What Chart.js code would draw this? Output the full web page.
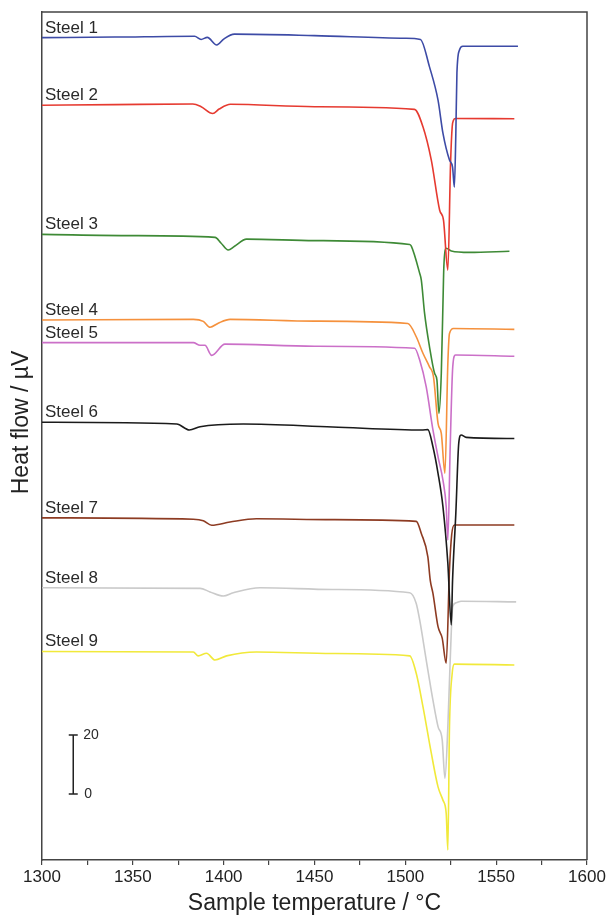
<!DOCTYPE html>
<html>
<head>
<meta charset="utf-8">
<script src="https://cdn.jsdelivr.net/npm/chart.js@4.4.1/dist/chart.umd.min.js"></script>
<style>
  html, body { margin: 0; padding: 0; background: #fff; }
  #wrap { width: 611px; height: 917px; }
</style>
</head>
<body>
<div id="wrap"><canvas id="dscChart" width="611" height="917"></canvas></div>
<script>
// sample temperature (°C) and heat flow (µV), one pair of arrays per steel
const steel1T = [1300, 1340, 1384, 1387.6, 1391, 1396.2, 1400, 1405.9, 1450, 1500, 1508.3, 1513.3, 1518, 1520.7, 1524.3, 1526, 1527, 1527.8, 1528.4, 1529.8, 1531.6, 1562];
const steel1V = [278.8, 279.0, 279.3, 278.2, 278.9, 276.3, 278.3, 280.0, 279.5, 278.6, 278.2, 268.9, 257.6, 246.4, 237.3, 234.9, 228.1, 246.4, 266.8, 274.6, 275.9, 275.9];

const steel2T = [1300, 1340, 1383, 1387.6, 1394, 1397.5, 1403.7, 1450, 1505, 1509.7, 1514.3, 1518.9, 1521, 1523.4, 1524.9, 1525.8, 1526.5, 1527.6, 1560];
const steel2V = [255.9, 256.1, 256.3, 255.4, 253.1, 254.6, 256.2, 255.4, 254.5, 248.6, 237.3, 220.3, 216.9, 200.0, 236.3, 248.6, 250.8, 251.4, 251.3];

const steel3T = [1300, 1350, 1395.3, 1398.5, 1402.5, 1406, 1412.6, 1450, 1502.4, 1503.3, 1507.9, 1508.8, 1510.6, 1513.3, 1516.1, 1517.4, 1518.5, 1519.8, 1521, 1521.2, 1522.5, 1525.3, 1535.3, 1557.3];
const steel3V = [212.1, 211.7, 211.1, 209.2, 206.8, 208.1, 210.5, 210.0, 208.7, 208.1, 198.9, 196.6, 185.3, 174.0, 165.0, 162.7, 151.4, 165.0, 196.6, 201.1, 207.4, 206.5, 206.0, 206.4];

const steel4T = [1300, 1383.3, 1388.8, 1392.5, 1397, 1403.5, 1450, 1501.4, 1506, 1509.7, 1513.3, 1515.5, 1518, 1519.8, 1521.8, 1523.4, 1524.3, 1526.5, 1560];
const steel4V = [183.1, 183.3, 182.6, 180.6, 182.0, 183.3, 182.7, 181.9, 177.4, 171.8, 167.2, 163.8, 148.0, 144.6, 131.1, 168.4, 178.5, 180.2, 179.9];

const steel5T = [1300, 1383.3, 1387, 1389.7, 1393.4, 1400.7, 1450, 1505.1, 1507.9, 1511.5, 1515.2, 1518, 1520.7, 1522.5, 1523.4, 1524.7, 1526.1, 1527.6, 1560];
const steel5V = [175.4, 175.4, 174.5, 174.5, 171.1, 174.9, 174.2, 173.5, 169.5, 160.4, 145.8, 136.7, 128.8, 119.8, 108.5, 140.1, 167.2, 171.2, 170.8];

const steel6T = [1300, 1374.2, 1381.1, 1387, 1410.8, 1460, 1509.7, 1512.4, 1515.2, 1518, 1520.7, 1523.4, 1525.3, 1526, 1527.8, 1529.4, 1530.7, 1533.5, 1560];
const steel6V = [148.4, 147.8, 145.8, 146.9, 147.8, 146.8, 145.8, 145.9, 140.1, 131.1, 119.8, 100.6, 79.7, 94.9, 117.6, 141.3, 144.1, 143.3, 142.9];

const steel7T = [1300, 1383.3, 1388.8, 1393.4, 1403.5, 1418, 1460, 1506, 1508.8, 1512.4, 1513.7, 1515.2, 1518, 1520.3, 1522.5, 1524.3, 1525.5, 1527, 1560];
const steel7V = [116.0, 115.5, 115.0, 113.5, 114.6, 115.7, 115.4, 114.8, 110.7, 102.8, 94.9, 90.4, 79.1, 75.2, 66.7, 98.3, 110.2, 113.6, 113.6];

const steel8T = [1300, 1387, 1392.5, 1399.8, 1405.3, 1420, 1460, 1502.4, 1506, 1507.9, 1511.5, 1515.2, 1518, 1520.3, 1521.8, 1523.4, 1524.7, 1526.1, 1528, 1530.7, 1561];
const steel8V = [92.3, 92.1, 90.9, 89.5, 90.6, 92.3, 91.7, 90.6, 87.0, 81.4, 67.8, 54.2, 45.2, 40.7, 27.7, 45.2, 67.8, 85.9, 87.2, 87.7, 87.5];

const steel9T = [1300, 1383.3, 1386, 1390.6, 1395.2, 1401.6, 1418, 1460, 1502.4, 1506, 1509.7, 1514.3, 1518, 1520.7, 1522.5, 1523.4, 1524.3, 1525.8, 1527, 1560];
const steel9V = [70.7, 70.5, 69.2, 70.1, 67.8, 69.2, 70.5, 70.0, 69.2, 63.3, 52.0, 36.2, 24.8, 20.3, 15.8, 3.4, 45.2, 63.3, 66.4, 66.1];

const steelNames = ['Steel 1', 'Steel 2', 'Steel 3', 'Steel 4', 'Steel 5', 'Steel 6', 'Steel 7', 'Steel 8', 'Steel 9'];
const steelColors = ['#3d4ba6', '#e63a30', '#3e8a36', '#f5913d', '#cb70c8', '#1b1b1b', '#8d3b22', '#cacaca', '#f1e93a'];

// 20 µV scale bar in the lower left corner
const scaleBarT = 1317.2;
const scaleBarFrom = 22.4;
const scaleBarSpan = 20;

const allT = [steel1T, steel2T, steel3T, steel4T, steel5T, steel6T, steel7T, steel8T, steel9T];
const allV = [steel1V, steel2V, steel3V, steel4V, steel5V, steel6V, steel7V, steel8V, steel9V];

const FONT = "'Liberation Sans', Arial, Helvetica, sans-serif";
const axisColor = '#444';

const datasets = steelNames.map((name, i) => ({
    label: name,
    data: allT[i].map((t, k) => ({ x: t, y: allV[i][k] })),
    borderColor: steelColors[i],
    borderWidth: 1.6,
    pointRadius: 0,
    fill: false,
    cubicInterpolationMode: 'monotone'
}));

// frame on top/right, y title, steel names and the scale bar
const extras = {
    id: 'extras',
    afterDatasetsDraw(chart) {
        const ctx = chart.ctx;
        const a = chart.chartArea;
        const xs = chart.scales.x, ys = chart.scales.y;
        ctx.save();
        ctx.strokeStyle = axisColor;
        ctx.lineWidth = 1.5;
        ctx.beginPath();
        ctx.moveTo(a.left, a.top);
        ctx.lineTo(a.right, a.top);
        ctx.lineTo(a.right, a.bottom);
        ctx.stroke();

        // y title sits a little above the middle of the axis in the original
        ctx.save();
        ctx.translate(a.left - 20, a.top + (a.bottom - a.top) * 0.484);
        ctx.rotate(-Math.PI / 2);
        ctx.fillStyle = '#222';
        ctx.font = '23px ' + FONT;
        ctx.textAlign = 'center';
        ctx.textBaseline = 'middle';
        ctx.fillText('Heat flow / µV', 0, 0);
        ctx.restore();

        ctx.fillStyle = '#2a2a2a';
        ctx.font = '17px ' + FONT;
        ctx.textAlign = 'left';
        ctx.textBaseline = 'alphabetic';
        chart.data.datasets.forEach(ds => {
            const y = ys.getPixelForValue(ds.data[0].y);
            ctx.fillText(ds.label, a.left + 3, y - 5);
        });

        const bx = xs.getPixelForValue(scaleBarT);
        const y0 = ys.getPixelForValue(scaleBarFrom);
        const y1 = ys.getPixelForValue(scaleBarFrom + scaleBarSpan);
        ctx.strokeStyle = '#222';
        ctx.lineWidth = 1.5;
        ctx.beginPath();
        ctx.moveTo(bx, y0); ctx.lineTo(bx, y1);
        ctx.moveTo(bx - 4.5, y0); ctx.lineTo(bx + 4.5, y0);
        ctx.moveTo(bx - 4.5, y1); ctx.lineTo(bx + 4.5, y1);
        ctx.stroke();
        ctx.font = '14px ' + FONT;
        ctx.textBaseline = 'middle';
        ctx.fillText('20', bx + 10, y1);
        ctx.fillText('0', bx + 11, y0);
        ctx.restore();
    }
};

new Chart(document.getElementById('dscChart').getContext('2d'), {
    type: 'line',
    data: { datasets: datasets },
    options: {
        responsive: false,
        animation: false,
        layout: { padding: { top: 12, right: 24, left: 0, bottom: 0 } },
        plugins: { legend: { display: false }, tooltip: { enabled: false } },
        scales: {
            x: {
                type: 'linear',
                min: 1300,
                max: 1600,
                afterFit: s => { s.height = 57; },
                ticks: {
                    stepSize: 25,
                    autoSkip: false,
                    maxRotation: 0,
                    padding: 2,
                    color: '#222',
                    font: { family: FONT, size: 17 },
                    callback: v => (v % 50 === 0 ? String(v) : '')
                },
                grid: { drawOnChartArea: false, drawTicks: true, tickLength: 5, color: axisColor, lineWidth: 1.2 },
                border: { color: axisColor, width: 1.5 },
                title: {
                    display: true,
                    text: 'Sample temperature / °C',
                    color: '#222',
                    font: { family: FONT, size: 23 },
                    padding: { top: 0, bottom: 0 }
                }
            },
            y: {
                min: 0,
                max: 287.5,
                afterFit: s => { s.width = 42; },
                ticks: { display: false },
                grid: { display: false },
                border: { color: axisColor, width: 1.5 }
            }
        }
    },
    plugins: [extras]
});
</script>
</body>
</html>
